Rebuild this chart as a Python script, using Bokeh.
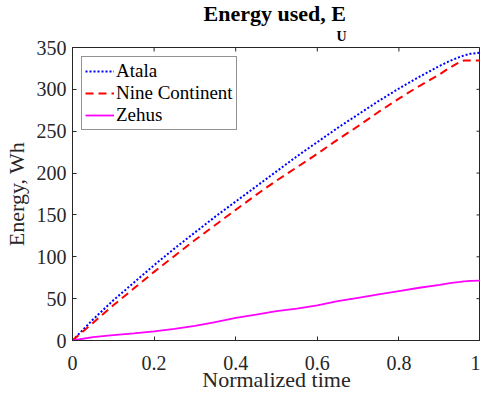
import math
from bokeh.plotting import figure
from bokeh.models import Range1d, FixedTicker, Legend, LegendItem, Title
from bokeh.embed import file_html
from bokeh.resources import INLINE

# ---- data ----
t = [0, 0.05, 0.1, 0.15, 0.2, 0.25, 0.3, 0.35, 0.4, 0.45, 0.5, 0.55, 0.6,
     0.65, 0.7, 0.75, 0.8, 0.85, 0.9, 0.925, 0.95, 0.96, 0.975, 1.0]
atala = [0, 25, 48, 69, 90, 110, 129, 148, 166, 184, 202, 220, 237,
         254, 270, 286, 301, 315, 328, 334, 339, 340.5, 342.5, 344]
nine_continent = [0, 21, 42, 62, 82, 101, 120, 138, 156, 174, 191, 207, 223,
                  240, 256, 273, 289, 304, 318, 326, 333, 334.5, 334.5, 334.5]
zehus = [0, 4, 6.5, 8.5, 11, 14, 17.5, 22, 27, 31, 35, 38, 42,
         47, 51, 55, 59, 63, 66.5, 68.5, 70, 70.7, 71.2, 71.5]

series_names = ["Atala", "Nine Continent", "Zehus"]
title_main = "Energy used, E"
title_sub = "U"
x_ticks = [0, 0.2, 0.4, 0.6, 0.8, 1]
x_tick_labels = ["0", "0.2", "0.4", "0.6", "0.8", "1"]
y_ticks = [0, 50, 100, 150, 200, 250, 300, 350]
x_min, x_max = 0, 1
y_min, y_max = 0, 350

AX = "#262626"
FONT = "Liberation Serif"

p = figure(width=480, height=394, x_range=Range1d(x_min, x_max), y_range=Range1d(y_min, y_max),
           output_backend="svg", toolbar_location=None, title=None,
           min_border_left=65, min_border_right=0, min_border_top=0, min_border_bottom=0)
p.grid.visible = False
p.outline_line_color = AX
p.outline_line_width = 1
p.background_fill_color = "white"
p.border_fill_color = "white"

r1 = p.line(t, atala, line_color="#0000ff", line_width=2, line_dash="2 2")
r2 = p.line(t, nine_continent, line_color="#ff0000", line_width=2, line_dash="8 5")
r3 = p.line(t, zehus, line_color="#ff00ff", line_width=1.8)

# inward ticks on the top and right edges (MATLAB "box on")
p.ray(x=x_ticks, y=[y_max] * len(x_ticks), length=4, length_units="screen",
      angle=-math.pi / 2, line_color=AX, line_width=1)
p.ray(x=[x_max] * len(y_ticks), y=y_ticks, length=4, length_units="screen",
      angle=math.pi, line_color=AX, line_width=1)

def style_axis(ax):
    ax.axis_line_color = AX
    ax.major_tick_line_color = AX
    ax.major_tick_in = 4
    ax.major_tick_out = 0
    ax.minor_tick_line_color = None
    ax.major_label_text_font = FONT
    ax.major_label_text_color = AX
    ax.major_label_text_font_size = "20px"
    ax.axis_label_text_font = FONT
    ax.axis_label_text_color = AX
    ax.axis_label_text_font_style = "normal"
    ax.axis_label_text_font_size = "22px"

xa = p.xaxis[0]
xa.ticker = FixedTicker(ticks=x_ticks)
xa.major_label_overrides = dict(zip(x_ticks, x_tick_labels))
xa.axis_label = "Normalized time"
style_axis(xa)
xa.major_label_standoff = 15
xa.axis_label_standoff = -6

ya = p.yaxis[0]
ya.ticker = FixedTicker(ticks=y_ticks)
ya.axis_label = "Energy, Wh"
style_axis(ya)
ya.major_label_standoff = 6
ya.axis_label_standoff = 5

legend = Legend(items=[LegendItem(label=series_names[0], renderers=[r1]),
                       LegendItem(label=series_names[1], renderers=[r2]),
                       LegendItem(label=series_names[2], renderers=[r3])],
                location=(9, 210), padding=3, spacing=0, margin=0,
                glyph_width=29, glyph_height=20, label_height=20, label_standoff=2,
                border_line_color=AX, border_line_width=1, background_fill_alpha=1)
p.add_layout(legend, "center")
legend.label_text_font = FONT
legend.label_text_font_size = "19px"
legend.label_text_color = "black"

# title "Energy used, E_U": subscript title closest to the frame, main title above it
p.add_layout(Title(text=title_sub, align="left", offset=264, standoff=7,
                   text_font=FONT, text_font_style="bold", text_font_size="14px",
                   text_color="black"), "above")
p.add_layout(Title(text=title_main, align="left", offset=131, standoff=-4,
                   text_font=FONT, text_font_style="bold", text_font_size="22px",
                   text_color="black"), "above")

open("out.html", "w").write(file_html(p, INLINE))
